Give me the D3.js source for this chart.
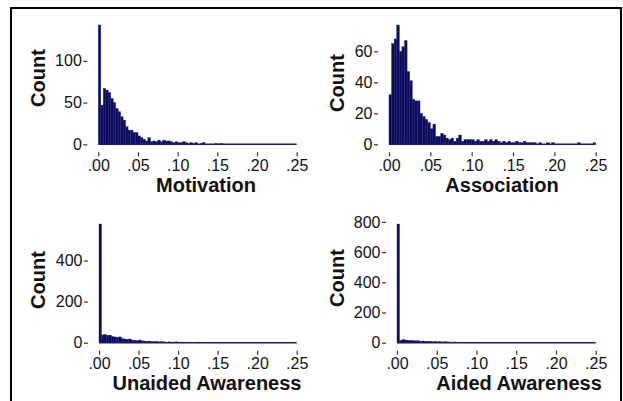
<!DOCTYPE html>
<html>
<head>
<meta charset="utf-8">
<script src="https://cdn.jsdelivr.net/npm/d3@7"></script>
<style>
  html, body { margin: 0; padding: 0; background: #fff; }
  svg { display: block; }
  text { font-family: "Liberation Sans", Arial, sans-serif; }
</style>
</head>
<body>
<svg id="chart" width="623" height="401"></svg>
<script>
// ---- data (histogram counts per bin, bin width 0.003125 starting at 0) ----
const binWidth = 0.003125;
const xTickValues = [0, 0.05, 0.10, 0.15, 0.20, 0.25];
const xTickLabels = [".00", ".05", ".10", ".15", ".20", ".25"];

const motivation = [143,47,67,65,62,55,50,43,39,33,29,21,17,17,14,14,10,8,6,4,
  8,3,4,3,5,3,5,4,4,3,2,3,2,2,3,2,1,2,1,2,
  0,1,2,0,0,0,0,1,0,1,0,0,0,0,0,0,0,0,0,0,
  0,0,0,0,0,0,0,0,0,0,0,0,0,0,0,0,0,0,0,0];
const association = [32,65,68,77,60,63,67,47,41,29,28,28,20,18,16,14,10,13,5,5,
  7,6,4,3,4,2,4,6,2,3,3,3,3,2,3,2,2,3,2,3,
  2,3,2,1,2,1,2,1,1,2,1,1,2,1,1,1,1,0,1,0,
  0,1,0,1,0,0,0,0,0,0,0,0,0,1,0,0,0,0,0,1];
const unaided = [578,38,40,36,37,30,28,26,28,20,18,16,18,13,12,10,13,9,8,7,
  8,6,5,6,4,5,4,3,4,3,3,4,2,3,2,2,3,2,2,2,
  3,2,1,2,2,1,2,1,1,2,1,1,1,2,1,1,1,1,1,0,
  1,1,1,0,1,1,0,1,1,0,1,0,1,1,0,1,0,1,0,1];
const aided = [786,14,20,18,16,15,14,12,13,10,11,9,10,8,7,8,6,7,5,6,
  5,4,4,5,3,4,3,3,3,2,3,2,2,3,2,2,2,2,1,2,
  1,2,1,1,2,1,1,1,1,1,1,0,1,1,1,0,1,1,0,1,
  1,0,1,1,0,1,0,1,0,1,1,0,1,0,1,0,1,0,1,1];

const motivationTicks = [0, 50, 100];
const associationTicks = [0, 20, 40, 60];
const unaidedTicks = [0, 200, 400];
const aidedTicks = [0, 200, 400, 600, 800];

const titles = ["Motivation", "Association", "Unaided Awareness", "Aided Awareness"];
const yTitle = "Count";

// ---- layout ----
const panels = [
  { data: motivation,  ticks: motivationTicks,  title: titles[0], x0: 98.3,  x1: 296.7, yb: 144.3, yt: 25,  titleX: 206, titleY: 192, countX: 38,  countY: 78 },
  { data: association, ticks: associationTicks, title: titles[1], x0: 389,   x1: 595.7, yb: 144.3, yt: 25,  titleX: 502, titleY: 192, countX: 337, countY: 83 },
  { data: unaided,     ticks: unaidedTicks,     title: titles[2], x0: 99,    x1: 296.7, yb: 342.7, yt: 224, titleX: 207, titleY: 390, countX: 38,  countY: 280 },
  { data: aided,       ticks: aidedTicks,       title: titles[3], x0: 397,   x1: 595.7, yb: 342.7, yt: 224, titleX: 519, titleY: 390, countX: 337, countY: 278 }
];

const svg = d3.select("#chart");
const barFill = "#0a0a5c";
const barStroke = "#23237c";

panels.forEach(p => {
  const x = d3.scaleLinear().domain([0, 0.25]).range([p.x0, p.x1]);
  const y = d3.scaleLinear().domain([0, d3.max(p.data)]).range([p.yb, p.yt]);
  const g = svg.append("g");

  // bars
  g.selectAll("rect.bar")
    .data(p.data.map((v, i) => ({ v, i })).filter(d => d.v > 0))
    .join("rect")
    .attr("class", "bar")
    .attr("x", d => x(d.i * binWidth))
    .attr("width", x(binWidth) - x(0))
    .attr("y", d => y(d.v))
    .attr("height", d => y(0) - y(d.v))
    .attr("fill", barFill)
    .attr("stroke", barStroke)
    .attr("stroke-width", 0.4);

  // baseline
  g.append("line")
    .attr("x1", x(0)).attr("x2", x(0.25))
    .attr("y1", y(0)).attr("y2", y(0))
    .attr("stroke", "#1a1a6e").attr("stroke-width", 1.5);

  // x axis
  const xa = g.append("g")
    .attr("transform", `translate(0,${p.yb + 8})`)
    .call(d3.axisBottom(x).tickValues(xTickValues)
      .tickFormat((d, i) => xTickLabels[i]).tickSize(4).tickPadding(3));
  xa.select(".domain").remove();
  xa.selectAll("line").attr("stroke", "#333").attr("stroke-width", 1.2);
  xa.selectAll("text").attr("font-size", 16).attr("fill", "#111")
    .attr("font-family", "Liberation Sans, Arial, sans-serif");

  // y axis
  const ya = g.append("g")
    .attr("transform", `translate(${p.x0 - 11},0)`)
    .call(d3.axisLeft(y).tickValues(p.ticks).tickSize(4).tickPadding(1.5));
  ya.select(".domain").remove();
  ya.selectAll("line").attr("stroke", "#333").attr("stroke-width", 1.2);
  ya.selectAll("text").attr("font-size", 16).attr("fill", "#111")
    .attr("font-family", "Liberation Sans, Arial, sans-serif");

  // titles
  g.append("text")
    .attr("x", p.titleX).attr("y", p.titleY)
    .attr("text-anchor", "middle")
    .attr("font-size", 20).attr("font-weight", "bold").attr("fill", "#111")
    .text(p.title);

  g.append("text")
    .attr("transform", `translate(${p.countX},${p.countY}) rotate(-90)`)
    .attr("text-anchor", "middle")
    .attr("dominant-baseline", "central")
    .attr("font-size", 20).attr("font-weight", "bold").attr("fill", "#111")
    .text(yTitle);
});

// frame
svg.append("rect")
  .attr("x", 11).attr("y", 8).attr("width", 610).attr("height", 400)
  .attr("fill", "none").attr("stroke", "#000").attr("stroke-width", 2);
</script>
</body>
</html>
